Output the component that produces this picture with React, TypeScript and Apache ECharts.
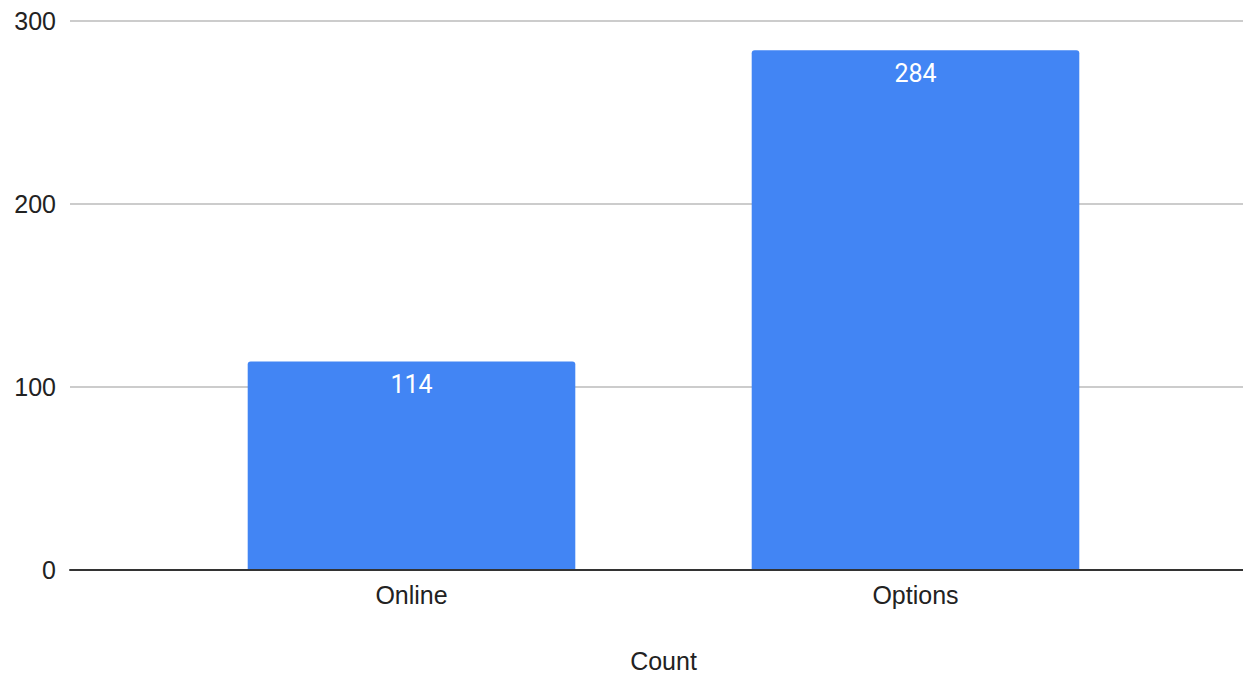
import React, { useEffect, useRef } from "react";
import * as echarts from "echarts";

const categories = ["Online", "Options"];
const counts = [114, 284];
const yTicks = [0, 100, 200, 300];
const xTitle = "Count";

export default function App() {
  const ref = useRef<HTMLDivElement>(null);
  useEffect(() => {
    if (!ref.current) return;
    const chart = echarts.init(ref.current, null, { renderer: "svg" });
    const font = "'Liberation Sans', Arial, sans-serif";
    const labelFont = "Roboto, 'Liberation Sans', Arial, sans-serif";
    chart.setOption({
      animation: false,
      textStyle: { fontFamily: font },
      grid: [
        { left: 70, right: 0, top: 21, bottom: 104, containLabel: false, outerBoundsMode: "none" },
        { left: 159.5, right: 75.5, top: 21, bottom: 104, containLabel: false, outerBoundsMode: "none" },
      ],
      xAxis: [
        {
          type: "category",
          gridIndex: 0,
          data: categories,
          axisLine: { show: true, lineStyle: { color: "#333", width: 2 } },
          axisTick: { show: false },
          axisLabel: { show: false },
          splitLine: { show: false },
          z: 5,
        },
        {
          type: "category",
          gridIndex: 1,
          data: categories,
          axisLine: { show: false },
          axisTick: { show: false },
          axisLabel: { show: true, color: "#222", fontSize: 25, fontFamily: font, margin: 12 },
          name: xTitle,
          nameLocation: "middle",
          nameGap: 78,
          nameTextStyle: { color: "#222", fontSize: 25, fontFamily: font },
        },
      ],
      yAxis: [
        {
          type: "value",
          gridIndex: 0,
          min: yTicks[0],
          max: yTicks[yTicks.length - 1],
          interval: 100,
          axisLine: { show: false },
          axisTick: { show: false },
          axisLabel: { color: "#222", fontSize: 25, fontFamily: font, margin: 14 },
          splitLine: { show: true, lineStyle: { color: "#cccccc", width: 2 } },
        },
        {
          type: "value",
          gridIndex: 1,
          min: yTicks[0],
          max: yTicks[yTicks.length - 1],
          interval: 100,
          show: false,
          splitLine: { show: false },
        },
      ],
      series: [
        {
          type: "bar",
          xAxisIndex: 1,
          yAxisIndex: 1,
          data: counts,
          barWidth: "65%",
          itemStyle: { color: "#4285f4", borderRadius: [3, 3, 0, 0] },
          label: {
            show: true,
            position: "insideTop",
            distance: 11,
            color: "#ffffff",
            fontSize: 25,
            fontFamily: labelFont,
          },
          z: 2,
        },
      ],
    });
    return () => chart.dispose();
  }, []);
  return (
    <div
      ref={ref}
      style={{ position: "fixed", left: 0, top: 0, width: 1243, height: 674, background: "#fff" }}
    />
  );
}
